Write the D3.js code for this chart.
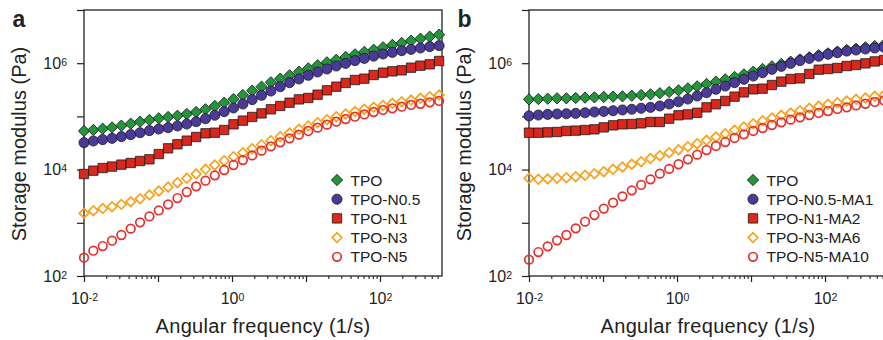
<!DOCTYPE html>
<html>
<head>
<meta charset="utf-8">
<script src="https://cdn.jsdelivr.net/npm/d3@7"></script>
<style>
  body { margin: 0; background: #fff; }
  svg { display: block; }
  text { font-family: "Liberation Sans", Arial, Helvetica, sans-serif; fill: #222; }
</style>
</head>
<body>
<svg id="chart"></svg>
<script>
// angular frequency grid (1/s), shared by every curve
const freq = [0.01, 0.01338, 0.01789, 0.02393, 0.0320, 0.0428, 0.05723, 0.07655, 0.1024, 0.1369,
  0.1831, 0.2449, 0.3276, 0.4381, 0.5858, 0.7837, 1.048, 1.402, 1.875, 2.507,
  3.354, 4.485, 5.998, 8.023, 10.73, 14.35, 19.19, 25.67, 34.33, 45.92,
  61.41, 82.13, 109.8, 146.9, 196.5, 262.8, 351.5, 470.1, 628.7];

// panel a : storage modulus (Pa)
const namesA = ["TPO", "TPO-N0.5", "TPO-N1", "TPO-N3", "TPO-N5"];
const aTPO = [53200, 55500, 58700, 62200, 67000, 72900, 79600, 85500, 92000, 97500,
  103000, 111000, 121000, 136000, 157000, 181000, 212000, 252000, 305000, 362000,
  437000, 512000, 592000, 693000, 800000, 912000, 1.04e6, 1.16e6, 1.31e6, 1.47e6,
  1.63e6, 1.79e6, 1.99e6, 2.20e6, 2.40e6, 2.65e6, 2.89e6, 3.16e6, 3.44e6];
const aN05 = [32100, 34500, 36600, 38700, 41600, 45400, 49400, 54000, 57900, 61500,
  66100, 71900, 79600, 90600, 105000, 123000, 144000, 171000, 207000, 249000,
  300000, 362000, 431000, 505000, 592000, 684000, 778000, 885000, 993000, 1.12e6,
  1.23e6, 1.36e6, 1.49e6, 1.60e6, 1.72e6, 1.82e6, 1.93e6, 2.05e6, 2.14e6];
const aN1 = [8260, 9550, 10700, 11400, 12400, 13300, 14500, 15600, 19600, 25100,
  29900, 35000, 41000, 48100, 49400, 55500, 71000, 83200, 97500, 114000,
  136000, 157000, 181000, 209000, 222000, 256000, 309000, 362000, 425000, 483000,
  512000, 600000, 664000, 703000, 735000, 824000, 899000, 953000, 1.10e6];
const aN3 = [1510, 1690, 1850, 2010, 2220, 2490, 2840, 3330, 3960, 4710,
  5680, 6850, 8260, 10100, 12200, 14700, 17500, 20800, 24700, 29400,
  35000, 41600, 48800, 57100, 66100, 76200, 86900, 98800, 111000, 123000,
  136000, 148000, 161000, 176000, 189000, 203000, 219000, 235000, 252000];
const aN5 = [221, 299, 366, 461, 590, 776, 1020, 1320, 1710, 2220,
  2920, 3790, 4840, 6190, 7800, 9820, 12200, 15100, 18500, 22700,
  27400, 32600, 38700, 45400, 53200, 61400, 70000, 79600, 89300, 98800,
  109000, 121000, 132000, 142000, 152000, 164000, 173000, 184000, 195000];

// panel b : storage modulus (Pa)
const namesB = ["TPO", "TPO-N0.5-MA1", "TPO-N1-MA2", "TPO-N3-MA6", "TPO-N5-MA10"];
const bTPO = [209000, 212000, 215000, 219000, 219000, 222000, 225000, 228000, 232000, 235000,
  238000, 245000, 252000, 260000, 272000, 288000, 309000, 337000, 367000, 406000,
  450000, 498000, 551000, 618000, 693000, 778000, 873000, 966000, 1.07e6, 1.18e6,
  1.29e6, 1.41e6, 1.53e6, 1.65e6, 1.77e6, 1.87e6, 1.99e6, 2.10e6, 2.23e6];
const bN05 = [102000, 106000, 109000, 111000, 112000, 114000, 117000, 121000, 124000, 128000,
  132000, 136000, 142000, 148000, 157000, 171000, 189000, 212000, 242000, 279000,
  323000, 372000, 431000, 498000, 574000, 664000, 767000, 873000, 993000, 1.12e6,
  1.23e6, 1.35e6, 1.47e6, 1.58e6, 1.69e6, 1.77e6, 1.85e6, 1.93e6, 1.99e6];
const bN1 = [49400, 49400, 50100, 50900, 53200, 54000, 55500, 57100, 62200, 67900,
  71000, 71900, 74100, 78500, 78500, 90600, 105000, 109000, 117000, 148000,
  169000, 195000, 235000, 283000, 323000, 332000, 389000, 450000, 505000, 519000,
  627000, 755000, 778000, 813000, 885000, 925000, 993000, 1.08e6, 1.15e6];
const bN3 = [6850, 6560, 6650, 6850, 7050, 7360, 7800, 8390, 9140, 10100,
  11200, 12600, 14100, 16100, 18300, 20800, 23700, 27000, 30700, 35500,
  41000, 47300, 54700, 63200, 72900, 83200, 93300, 105000, 116000, 128000,
  142000, 155000, 169000, 181000, 195000, 209000, 222000, 238000, 252000];
const bN5 = [203, 282, 361, 468, 590, 787, 1050, 1400, 1850, 2390,
  3140, 4070, 5140, 6560, 8390, 10300, 12600, 15600, 19100, 23300,
  27800, 33000, 39300, 46000, 53200, 60500, 68900, 77300, 86900, 95900,
  106000, 116000, 126000, 138000, 148000, 161000, 173000, 187000, 200000];

// axis ticks (powers of ten)
const xTickExps = [-2, -1, 0, 1, 2];
const xLabelExps = [-2, 0, 2];
const yTickExps = [2, 3, 4, 5, 6, 7];
const yLabelExps = [2, 4, 6];

const width = 883;
const height = 340;
const svg = d3.select("#chart").attr("width", width).attr("height", height);

const plotW = 358;
const plotH = 266;
const xMax = 688;

// marker styles, one per series
const styles = [
  { shape: d3.symbolSquare, rot: 45, size: 64, fill: "#23963b", stroke: "#1a1a1a", sw: 0.8 },
  { shape: d3.symbolCircle, rot: 0, size: 80, fill: "#4a3b9b", stroke: "#1a1a1a", sw: 0.8 },
  { shape: d3.symbolSquare, rot: 0, size: 88, fill: "#d8271d", stroke: "#1a1a1a", sw: 0.8 },
  { shape: d3.symbolSquare, rot: 45, size: 46, fill: "none", stroke: "#f6a21d", sw: 1.7 },
  { shape: d3.symbolCircle, rot: 0, size: 58, fill: "none", stroke: "#e5302e", sw: 1.7 }
];

const x = d3.scaleLog().domain([0.01, xMax]).range([0, plotW]);
const y = d3.scaleLog().domain([1e2, 1e7]).range([plotH, 0]);

// "10" with superscript exponent
function supLabels(sel, exps) {
  sel.selectAll(".tick").each(function (d) {
    const e = Math.round(Math.log10(d));
    const t = d3.select(this).select("text");
    t.text(null);
    if (!exps.includes(e)) return;
    t.append("tspan").text("10");
    t.append("tspan").attr("dy", -3).attr("font-size", "10.5px").text(e);
  });
}

function drawPanel(left, series, names, letter, legendX) {
  const g = svg.append("g").attr("transform", `translate(${left},10)`);

  // x ticks: decades + minor
  const xMinor = [];
  xTickExps.forEach(e => {
    for (let k = 2; k <= 9; k++) {
      const v = k * Math.pow(10, e);
      if (v < xMax) xMinor.push(v);
    }
  });
  g.append("g")
    .attr("transform", `translate(0,${plotH})`)
    .call(d3.axisBottom(x).tickValues(xMinor).tickSize(3).tickFormat(""))
    .call(a => a.select(".domain").remove())
    .selectAll("line").attr("stroke", "#222").attr("stroke-width", 1.1);

  const gx = g.append("g")
    .attr("transform", `translate(0,${plotH})`)
    .call(d3.axisBottom(x).tickValues(xTickExps.map(e => Math.pow(10, e))).tickSize(6).tickPadding(11));
  gx.attr("font-size", 16).attr("font-family", null);
  gx.select(".domain").remove();
  gx.selectAll("line").attr("stroke", "#222").attr("stroke-width", 1.2);
  supLabels(gx, xLabelExps);

  const gy = g.append("g")
    .call(d3.axisLeft(y).tickValues(yTickExps.map(e => Math.pow(10, e))).tickSize(7).tickPadding(10));
  gy.attr("font-size", 16).attr("font-family", null);
  gy.select(".domain").remove();
  gy.selectAll("line").attr("stroke", "#222").attr("stroke-width", 1.2);
  supLabels(gy, yLabelExps);

  // frame
  g.append("rect")
    .attr("width", plotW)
    .attr("height", plotH)
    .attr("fill", "none")
    .attr("stroke", "#222")
    .attr("stroke-width", 1.3);

  // markers
  series.forEach((vals, i) => {
    const s = styles[i];
    const sym = d3.symbol().type(s.shape).size(s.size);
    g.append("g")
      .selectAll("path")
      .data(freq.map((f, j) => [f, vals[j]]))
      .join("path")
      .attr("d", sym)
      .attr("transform", d => `translate(${x(d[0])},${y(d[1])}) rotate(${s.rot})`)
      .attr("fill", s.fill)
      .attr("stroke", s.stroke)
      .attr("stroke-width", s.sw);
  });

  // legend
  const lg = g.append("g").attr("transform", `translate(${legendX},170)`);
  names.forEach((n, i) => {
    const s = styles[i];
    const row = lg.append("g").attr("transform", `translate(0,${i * 19.2})`);
    row.append("path")
      .attr("d", d3.symbol().type(s.shape).size(s.size))
      .attr("transform", `rotate(${s.rot})`)
      .attr("fill", s.fill)
      .attr("stroke", s.stroke)
      .attr("stroke-width", s.sw);
    row.append("text")
      .attr("x", 13.5)
      .attr("dy", "0.36em")
      .attr("font-size", "15.5px")
      .text(n);
  });

  // titles
  g.append("text")
    .attr("x", plotW / 2)
    .attr("y", 323)
    .attr("text-anchor", "middle")
    .attr("font-size", "20px")
    .attr("letter-spacing", "0.3px")
    .text("Angular frequency (1/s)");
  g.append("text")
    .attr("transform", `translate(-58,${plotH / 2 + 1}) rotate(-90)`)
    .attr("text-anchor", "middle")
    .attr("font-size", "20px")
    .text("Storage modulus (Pa)");
  g.append("text")
    .attr("x", -71.5)
    .attr("y", 17)
    .attr("font-size", "23px")
    .attr("font-weight", "bold")
    .text(letter);
}

drawPanel(84, [aTPO, aN05, aN1, aN3, aN5], namesA, "a", 253);
drawPanel(529, [bTPO, bN05, bN1, bN3, bN5], namesB, "b", 224);
</script>
</body>
</html>
